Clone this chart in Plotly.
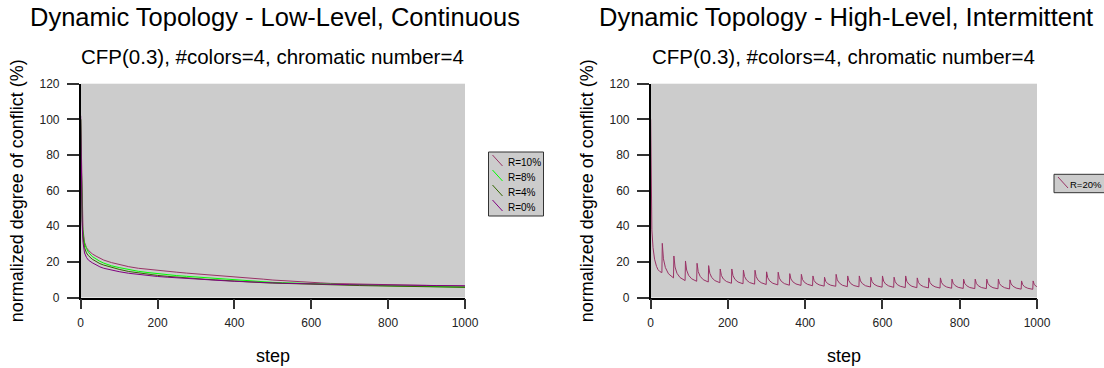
import plotly.graph_objects as go

# ---------------- data ----------------
low_steps = [0, 2, 4, 6, 10, 15, 20, 30, 40, 50, 60, 80, 100, 125, 150, 175, 200, 225, 250, 275,
             300, 325, 350, 375, 400, 425, 450, 475, 500, 525, 550, 575, 600, 625, 650, 675, 700,
             725, 750, 775, 800, 825, 850, 875, 900, 925, 950, 975, 1000]

r10 = [100, 70, 48, 38, 31, 28, 26.5, 24.5, 23.2, 22.0, 21.0, 19.6, 18.4, 17.3, 16.4, 15.8, 15.0,
       14.4, 14.2, 13.7, 13.3, 12.9, 12.6, 12.1, 11.9, 11.3, 10.7, 10.3, 9.8, 9.4, 9.1, 8.7, 8.3,
       8.2, 7.9, 7.8, 7.6, 7.5, 7.3, 7.3, 7.1, 7.0, 6.9, 6.8, 6.7, 6.6, 6.5, 6.4, 6.3]
r8 = [100, 66, 45, 36, 30, 27.5, 25.5, 23.0, 21.6, 20.3, 19.3, 17.8, 16.8, 15.6, 14.7, 14.0, 13.3,
      12.8, 12.3, 11.9, 11.5, 11.4, 10.7, 10.2, 9.8, 9.4, 9.0, 8.7, 8.5, 8.3, 8.1, 7.9, 7.7, 7.5,
      7.4, 7.2, 7.1, 7.0, 6.9, 6.7, 6.6, 6.5, 6.4, 6.3, 6.2, 6.1, 6.0, 5.9, 5.8]
r4 = [100, 64, 43, 34, 28, 25, 23.5, 21.5, 20.0, 19.0, 18.2, 16.8, 15.8, 14.6, 13.8, 13.0, 12.4,
      11.9, 11.4, 11.0, 10.6, 10.2, 9.9, 9.5, 9.2, 8.9, 8.6, 8.3, 8.1, 7.9, 7.7, 7.5, 7.4, 7.2,
      7.1, 6.9, 6.8, 6.7, 6.6, 6.5, 6.4, 6.3, 6.2, 6.1, 6.0, 6.0, 5.9, 5.8, 5.7]
r0 = [102, 60, 40, 31, 25, 22.5, 21.0, 19.5, 18.3, 17.2, 16.4, 15.3, 14.5, 13.6, 12.9, 12.4, 11.8,
      11.4, 11.0, 10.6, 10.3, 10.0, 9.7, 9.4, 9.1, 8.8, 8.6, 8.4, 8.2, 8.0, 7.9, 7.7, 7.6, 7.5,
      7.4, 7.3, 7.2, 7.2, 7.1, 7.0, 7.0, 6.9, 6.9, 6.8, 6.8, 6.7, 6.7, 6.6, 6.6]

hi_steps = [0, 1, 2, 3, 6, 10, 15, 19, 24, 29,
            30, 33, 38, 46, 59,
            60, 63, 68, 76, 89,
            90, 93, 98, 106, 119,
            120, 123, 128, 136, 149,
            150, 153, 158, 166, 179,
            180, 183, 188, 196, 209,
            210, 213, 218, 226, 239,
            240, 243, 248, 256, 269,
            270, 273, 278, 286, 299,
            300, 303, 308, 316, 329,
            330, 333, 338, 346, 359,
            360, 363, 368, 376, 389,
            390, 393, 398, 406, 419,
            420, 423, 428, 436, 449,
            450, 453, 458, 466, 479,
            480, 483, 488, 496, 509,
            510, 513, 518, 526, 539,
            540, 543, 548, 556, 569,
            570, 573, 578, 586, 599,
            600, 603, 608, 616, 629,
            630, 633, 638, 646, 659,
            660, 663, 668, 676, 689,
            690, 693, 698, 706, 719,
            720, 723, 728, 736, 749,
            750, 753, 758, 766, 779,
            780, 783, 788, 796, 809,
            810, 813, 818, 826, 839,
            840, 843, 848, 856, 869,
            870, 873, 878, 886, 899,
            900, 903, 908, 916, 929,
            930, 933, 938, 946, 959,
            960, 963, 968, 976, 989,
            990, 993, 998, 1000]

hi_values = [100, 70, 50, 38, 28, 21.5, 17.5, 15.6, 14.5, 14.0,
             30.4, 21.7, 16.8, 13.3, 11.0,
             23.3, 17.1, 13.6, 11.2, 9.5,
             20.5, 15.4, 12.5, 10.5, 9.1,
             19.2, 14.5, 11.9, 10.0, 8.7,
             17.9, 13.6, 11.2, 9.5, 8.3,
             16.0, 12.4, 10.4, 9.0, 8.0,
             16.0, 12.3, 10.2, 8.7, 7.7,
             15.3, 11.8, 9.8, 8.4, 7.5,
             15.3, 11.7, 9.7, 8.3, 7.3,
             14.4, 11.1, 9.3, 8.0, 7.1,
             14.2, 10.9, 9.1, 7.8, 6.9,
             13.4, 10.4, 8.8, 7.6, 6.8,
             13.0, 10.1, 8.5, 7.4, 6.6,
             12.1, 9.5, 8.1, 7.1, 6.4,
             11.4, 9.1, 7.8, 6.9, 6.3,
             13.0, 9.9, 8.2, 6.9, 6.1,
             12.1, 9.4, 7.8, 6.7, 6.0,
             12.1, 9.3, 7.8, 6.6, 5.9,
             11.4, 8.9, 7.5, 6.5, 5.8,
             12.1, 9.2, 7.6, 6.5, 5.7,
             11.4, 8.8, 7.3, 6.3, 5.6,
             12.1, 9.1, 7.5, 6.3, 5.5,
             11.0, 8.5, 7.1, 6.1, 5.4,
             11.0, 8.4, 7.0, 6.0, 5.3,
             11.0, 8.4, 6.9, 5.9, 5.2,
             10.3, 8.0, 6.7, 5.7, 5.1,
             10.3, 7.9, 6.6, 5.6, 5.0,
             10.3, 7.9, 6.6, 5.6, 5.0,
             10.3, 7.9, 6.5, 5.5, 4.9,
             10.3, 7.8, 6.5, 5.5, 4.8,
             9.9, 7.6, 6.3, 5.3, 4.7,
             9.3, 7.2, 6.0, 5.2, 4.6,
             9.3, 7.2, 6.3, 6.0]

low_series = [("R=10%", r10, "#993366"), ("R=8%", r8, "#00ff00"),
              ("R=4%", r4, "#336600"), ("R=0%", r0, "#800080")]
hi_series = [("R=20%", hi_values, "#993366")]

titles = ["Dynamic Topology - Low-Level, Continuous", "Dynamic Topology - High-Level, Intermittent"]
subtitle = "CFP(0.3), #colors=4, chromatic number=4"
y_title = "normalized degree of conflict (%)"
x_title = "step"

# ---------------- layout helpers ----------------
W, H = 1104, 368
def px(x):
    return x / W
def py(y):
    return 1 - y / H

FONT = "Liberation Sans, Arial, sans-serif"

fig = go.Figure()

for name, vals, col in low_series:
    fig.add_trace(go.Scatter(x=low_steps, y=vals, mode="lines", name=name,
                             line=dict(color=col, width=1), xaxis="x", yaxis="y",
                             showlegend=False))
for name, vals, col in hi_series:
    fig.add_trace(go.Scatter(x=hi_steps, y=vals, mode="lines", name=name,
                             line=dict(color=col, width=1), xaxis="x2", yaxis="y2",
                             showlegend=False))

plot_left = [80.7, 650.7]
plot_right = [465.0, 1037.0]
plot_top, plot_bot = 83.7, 297.5

axis_common = dict(showline=True, linecolor="black", linewidth=1.5, showgrid=False,
                   zeroline=False, ticks="outside", tickcolor="#333333", tickwidth=1.5,
                   automargin=False,
                   tickfont=dict(family=FONT, size=12, color="#222222"))

fig.update_layout(
    template="none",
    width=W, height=H, margin=dict(l=0, r=0, t=0, b=0, pad=0),
    paper_bgcolor="white", plot_bgcolor="#cccccc",
    font=dict(family=FONT, color="black"),
    xaxis=dict(domain=[px(plot_left[0]), px(plot_right[0])], range=[0, 1000], dtick=200,
               ticklen=10, ticklabelstandoff=3, anchor="y", **axis_common),
    yaxis=dict(domain=[py(plot_bot), py(plot_top)], range=[0, 120], dtick=20,
               ticklen=12, ticklabelstandoff=5, anchor="x", **axis_common),
    xaxis2=dict(domain=[px(plot_left[1]), px(plot_right[1])], range=[0, 1000], dtick=200,
                ticklen=10, ticklabelstandoff=3, anchor="y2", **axis_common),
    yaxis2=dict(domain=[py(plot_bot), py(plot_top)], range=[0, 120], dtick=20,
                ticklen=12, ticklabelstandoff=5, anchor="x2", **axis_common),
    showlegend=False,
)

annotations = []
shapes = []
for i in range(2):
    cx = (plot_left[i] + plot_right[i]) / 2
    annotations.append(dict(text=titles[i], x=px(cx + 2), y=py(17), xref="paper", yref="paper",
                            showarrow=False, xanchor="center", yanchor="middle",
                            font=dict(family=FONT, size=25.5, color="black")))
    annotations.append(dict(text=subtitle, x=px(cx), y=py(56.5), xref="paper", yref="paper",
                            showarrow=False, xanchor="center", yanchor="middle",
                            font=dict(family=FONT, size=20.5, color="black")))
    annotations.append(dict(text=y_title, x=px(plot_left[i] - 64), y=py((plot_top + plot_bot) / 2),
                            xref="paper", yref="paper", showarrow=False, textangle=-90,
                            xanchor="center", yanchor="middle",
                            font=dict(family=FONT, size=18, color="black")))
    annotations.append(dict(text=x_title, x=px(cx), y=py(356), xref="paper", yref="paper",
                            showarrow=False, xanchor="center", yanchor="middle",
                            font=dict(family=FONT, size=18, color="black")))

# manual legends (diagonal line symbols as in the original)
def add_legend(box, items, rows, text_dx, fsize):
    x0, y0, x1, y1 = box
    shapes.append(dict(type="rect", xref="paper", yref="paper", x0=px(x0), x1=px(x1),
                       y0=py(y1), y1=py(y0), fillcolor="#cccccc",
                       line=dict(color="#333333", width=1), layer="above"))
    for (name, _, col), yc in zip(items, rows):
        shapes.append(dict(type="line", xref="paper", yref="paper",
                           x0=px(x0 + 4), y0=py(yc - 7), x1=px(x0 + 14), y1=py(yc + 4),
                           line=dict(color=col, width=1), layer="above"))
        annotations.append(dict(text=name, x=px(x0 + text_dx), y=py(yc), xref="paper", yref="paper",
                                showarrow=False, xanchor="left", yanchor="middle",
                                font=dict(family=FONT, size=fsize, color="black")))

add_legend((488.5, 152, 543.5, 216), low_series, [162, 177, 192, 207], 17, 10)
add_legend((1054, 174.3, 1120, 192.7), hi_series, [184], 14, 9.5)

fig.update_layout(annotations=annotations, shapes=shapes)
fig.write_html("out.html")
